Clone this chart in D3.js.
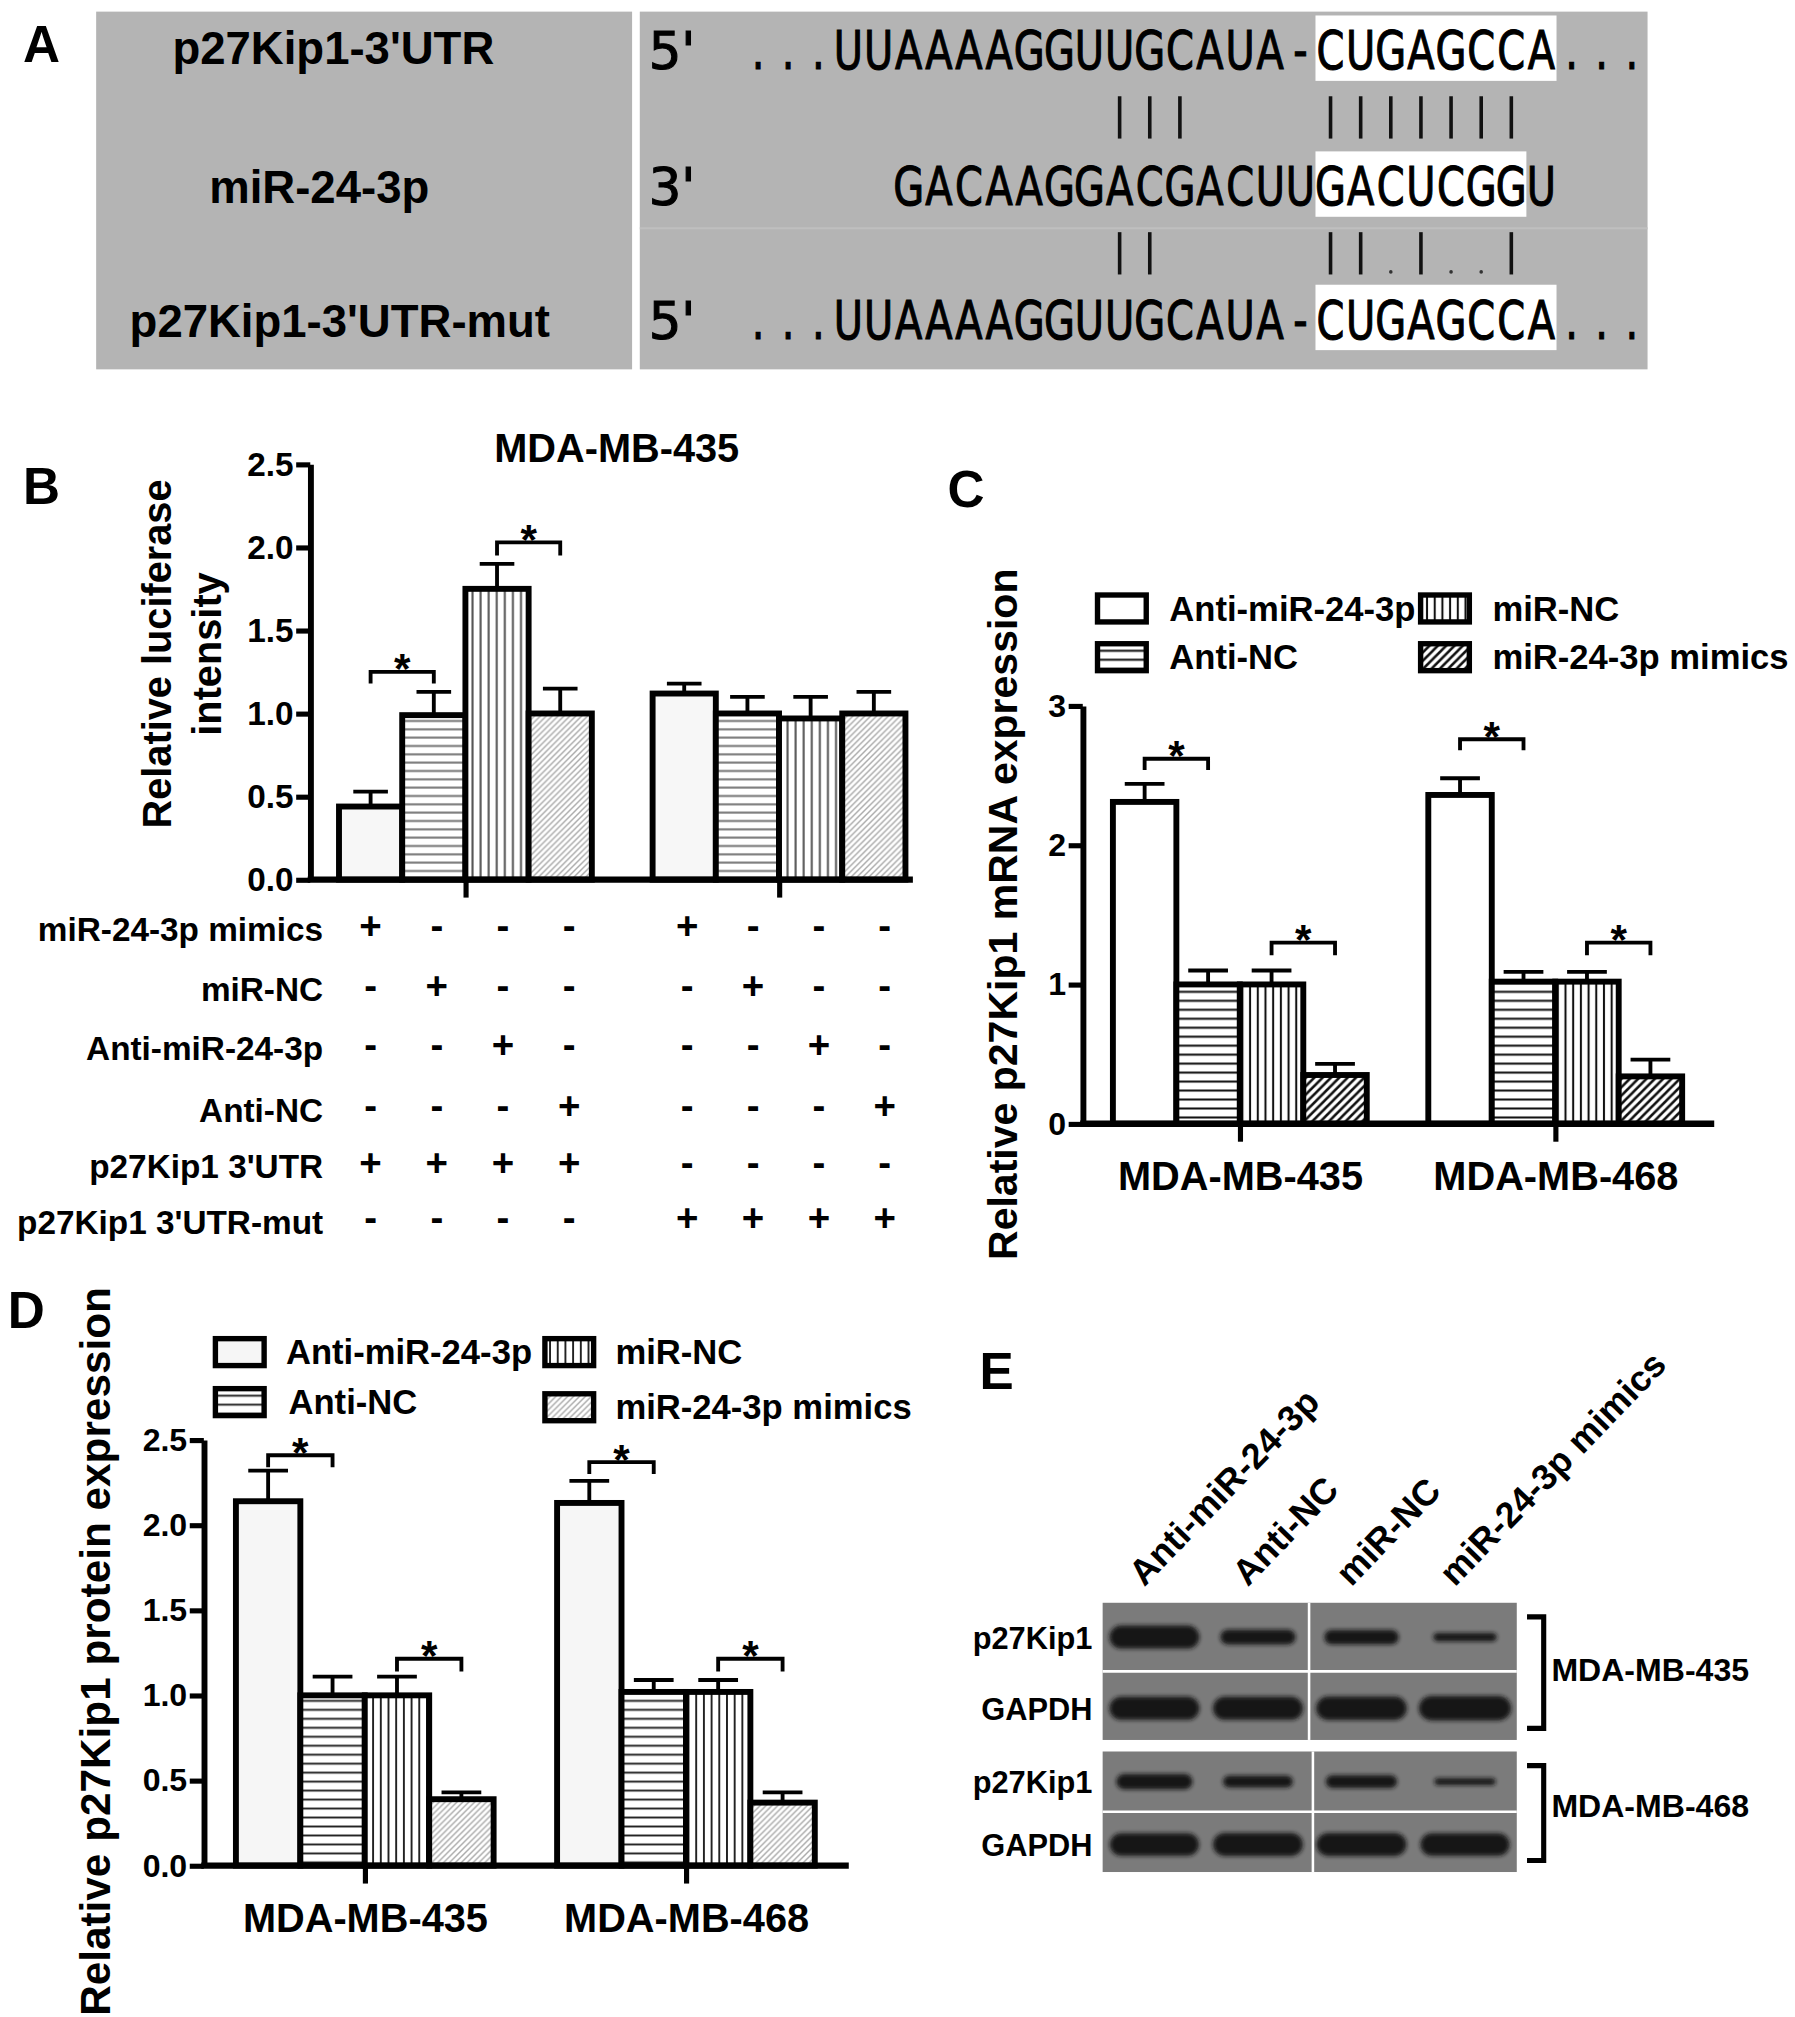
<!DOCTYPE html>
<html>
<head>
<meta charset="utf-8">
<script src="https://cdn.jsdelivr.net/npm/d3@7"></script>
<style>
html, body { margin: 0; padding: 0; background: #fff; }
svg { display: block; }
text { font-family: "Liberation Sans", Arial, sans-serif; font-weight: bold; fill: #000; }
.seq { font-family: "DejaVu Sans", sans-serif; font-weight: normal; stroke: #000; stroke-width: 0.9px; }
</style>
</head>
<body>
<svg id="fig" width="1795" height="2017" viewBox="0 0 1400 1573"></svg>
<script>
// ---------- data ----------
// panel A
const seqLabels = ["p27Kip1-3'UTR", "miR-24-3p", "p27Kip1-3'UTR-mut"];
const seqEnds = ["5'", "3'", "5'"];
const seqRows = ["...UUAAAAGGUUGCAUA-CUGAGCCA...", "GACAAGGACGACUUGACUCGGU", "...UUAAAAGGUUGCAUA-CUGAGCCA..."];
const seqOffset = [0, 5, 0];
const seedCols = [[19, 8], [19, 7], [19, 8]];
const pairRows = ["|||    |||||||", "||     ||.|..|"];
const pairStart = 12;

// panel B
const lucGroups = ["p27Kip1 3'UTR", "p27Kip1 3'UTR-mut"];
const lucMean = [[0.44, 0.99, 1.75, 1.00], [1.12, 1.00, 0.97, 1.00]];
const lucErr = [[0.09, 0.14, 0.15, 0.15], [0.06, 0.10, 0.13, 0.13]];
const lucTicks = [0, 0.5, 1.0, 1.5, 2.0, 2.5];
const lucSig = [{g: 0, a: 0, b: 1, top: 1.25, leg: 1.18}, {g: 0, a: 2, b: 3, top: 2.03, leg: 1.95}];
const tableRows = ["miR-24-3p mimics", "miR-NC", "Anti-miR-24-3p", "Anti-NC", "p27Kip1 3'UTR", "p27Kip1 3'UTR-mut"];
const tableSigns = [
  "+---+---",
  "-+---+--",
  "--+---+-",
  "---+---+",
  "++++----",
  "----++++"
];

// panel C / D
const cellLines = ["MDA-MB-435", "MDA-MB-468"];
const treatments = ["Anti-miR-24-3p", "Anti-NC", "miR-NC", "miR-24-3p mimics"];
const mrnaMean = [[2.31, 1.00, 1.00, 0.35], [2.36, 1.02, 1.02, 0.34]];
const mrnaErr = [[0.13, 0.10, 0.10, 0.08], [0.12, 0.07, 0.07, 0.12]];
const mrnaTicks = [0, 1, 2, 3];
const mrnaSig = [
  {g: 0, a: 0, b: 1, top: 2.62, leg: 2.54}, {g: 0, a: 2, b: 3, top: 1.30, leg: 1.21},
  {g: 1, a: 0, b: 1, top: 2.76, leg: 2.68}, {g: 1, a: 2, b: 3, top: 1.30, leg: 1.21}
];
const protMean = [[2.14, 1.00, 1.00, 0.39], [2.13, 1.02, 1.02, 0.37]];
const protErr = [[0.18, 0.11, 0.11, 0.04], [0.13, 0.07, 0.07, 0.06]];
const protTicks = [0, 0.5, 1.0, 1.5, 2.0, 2.5];
const protSig = [
  {g: 0, a: 0, b: 1, top: 2.41, leg: 2.34}, {g: 0, a: 2, b: 3, top: 1.215, leg: 1.14},
  {g: 1, a: 0, b: 1, top: 2.37, leg: 2.30}, {g: 1, a: 2, b: 3, top: 1.215, leg: 1.14}
];

// panel E (relative band intensity, rows: p27 435, GAPDH 435, p27 468, GAPDH 468)
const blotRows = ["p27Kip1", "GAPDH"];
const bandIntensity = [
  [1.00, 0.62, 0.60, 0.32],
  [1.00, 1.00, 1.02, 1.06],
  [0.64, 0.48, 0.52, 0.25],
  [0.98, 1.00, 1.00, 0.98]
];

// ---------- drawing ----------
const svg = d3.select('#fig');
const defs = svg.append('defs');

function hatch(id, kind, color, width, gap) {
  const p = defs.append('pattern').attr('id', id).attr('patternUnits', 'userSpaceOnUse')
    .attr('width', gap).attr('height', gap);
  p.append('rect').attr('width', gap).attr('height', gap).attr('fill', '#fff');
  let d;
  if (kind === 'h') d = `M0,${gap / 2}H${gap}`;
  else if (kind === 'v') d = `M${gap / 2},0V${gap}`;
  else d = `M0,${gap}L${gap},0M${-gap / 2},${gap / 2}L${gap / 2},${-gap / 2}M${gap / 2},${gap * 1.5}L${gap * 1.5},${gap / 2}`;
  p.append('path').attr('d', d).attr('stroke', color).attr('stroke-width', width);
}
hatch('hB', 'h', '#777', 1.6, 6.5);
hatch('vB', 'v', '#555', 1.6, 6.3);
hatch('dB', 'd', '#aaa', 1.1, 4.6);
hatch('hC', 'h', '#111', 1.6, 7);
hatch('vC', 'v', '#111', 1.6, 6);
hatch('dC', 'd', '#111', 2.0, 6.5);
hatch('hD', 'h', '#222', 1.5, 7);
hatch('vD', 'v', '#222', 1.5, 6);

defs.append('filter').attr('id', 'blur').attr('x', '-20%').attr('y', '-60%').attr('width', '140%').attr('height', '220%')
  .append('feGaussianBlur').attr('stdDeviation', 1.6);

function letter(t, x, y) {
  svg.append('text').attr('x', x).attr('y', y).attr('font-size', 40).text(t);
}

// ===== Panel A =====
letter('A', 18, 48);
const gA = svg.append('g');
gA.append('rect').attr('x', 75).attr('y', 9).attr('width', 418).attr('height', 279).attr('fill', '#b4b4b4');
gA.append('rect').attr('x', 499).attr('y', 9).attr('width', 786).attr('height', 279).attr('fill', '#b4b4b4');
gA.append('line').attr('x1', 499).attr('x2', 1285).attr('y1', 178).attr('y2', 178).attr('stroke', '#bfbfbf').attr('stroke-width', 1.5);

const seqBase = [54, 160, 264];
const labelBase = [50, 158, 263];
const labelX = [260, 249, 265];
const col = d3.scaleLinear().domain([0, 1]).range([579.5, 603]);
const sx = 0.76;

gA.selectAll('.slab').data(seqLabels).join('text').attr('class', 'slab')
  .attr('x', (d, i) => labelX[i]).attr('y', (d, i) => labelBase[i])
  .attr('text-anchor', 'middle').attr('font-size', 35.5).text(d => d);

seqRows.forEach((s, r) => {
  const [c0, n] = seedCols[r];
  gA.append('rect').attr('x', col(c0)).attr('width', col(c0 + n) - col(c0))
    .attr('y', seqBase[r] - 42).attr('height', 51).attr('fill', '#fff');
  gA.append('text').attr('class', 'seq').attr('x', 506).attr('y', seqBase[r])
    .attr('font-size', 40).text(seqEnds[r]);
  gA.append('text').attr('class', 'seq').attr('transform', `scale(${sx},1)`)
    .attr('x', s.split('').map((c, i) => (col(seqOffset[r] + i + 0.5) / sx).toFixed(2)).join(' '))
    .attr('y', seqBase[r]).attr('text-anchor', 'middle').attr('font-size', 41).text(s);
});

pairRows.forEach((p, r) => {
  const y0 = r === 0 ? 75 : 181, y1 = y0 + 33;
  p.split('').forEach((c, i) => {
    const x = col(pairStart + i + 0.5);
    if (c === '|') gA.append('line').attr('x1', x).attr('x2', x).attr('y1', y0).attr('y2', y1)
      .attr('stroke', '#111').attr('stroke-width', 2.8);
    else if (c === '.') gA.append('circle').attr('cx', x).attr('cy', y1 - 2).attr('r', 1.4).attr('fill', '#333');
  });
});

// ===== bar panel helper =====
function barPanel(o) {
  const g = svg.append('g');
  const y = d3.scaleLinear().domain(o.yDomain).range(o.yRange);
  const xg = d3.scalePoint().domain(o.groups).range(o.groupRange);
  const xs = d3.scaleBand().domain(d3.range(o.means[0].length)).range([-o.half, o.half]);
  const bw = xs.bandwidth();
  const cx = (gi, si) => xg(o.groups[gi]) + xs(si) + bw / 2;
  const recs = o.means.flatMap((row, gi) => row.map((v, si) => ({gi, si, v, e: o.errs[gi][si]})));

  g.selectAll('.err').data(recs).join('path').attr('class', 'err')
    .attr('d', d => {
      const x = cx(d.gi, d.si), t = y(d.v + d.e);
      return `M${x},${y(d.v)}V${t}M${x - o.cap / 2},${t}H${x + o.cap / 2}`;
    })
    .attr('fill', 'none').attr('stroke', '#000').attr('stroke-width', 3);

  g.selectAll('.bar').data(recs).join('rect').attr('class', 'bar')
    .attr('x', d => xg(o.groups[d.gi]) + xs(d.si)).attr('width', bw)
    .attr('y', d => y(d.v)).attr('height', d => y(0) - y(d.v))
    .attr('fill', d => o.fills[d.si]).attr('stroke', '#000').attr('stroke-width', 4.6);

  // y axis
  const ya = g.append('g').attr('transform', `translate(${o.axisX},0)`)
    .call(d3.axisLeft(y).tickValues(o.ticks).tickFormat(o.fmt).tickSize(11).tickSizeOuter(0).tickPadding(2));
  ya.attr('font-family', null).attr('font-size', null);
  ya.select('.domain').attr('stroke', '#000').attr('stroke-width', 4.6);
  ya.selectAll('.tick line').attr('stroke', '#000').attr('stroke-width', 4);
  ya.selectAll('.tick text').attr('font-size', o.tickFont).attr('fill', '#000');

  // x axis
  g.append('line').attr('x1', o.axisX - 2).attr('x2', o.axisEnd).attr('y1', y(0)).attr('y2', y(0))
    .attr('stroke', '#000').attr('stroke-width', 5);
  const xa = g.append('g').attr('transform', `translate(0,${y(0)})`)
    .call(d3.axisBottom(xg).tickSize(14).tickSizeOuter(0).tickPadding(16).tickFormat(o.catLabels ? d => d : () => ''));
  xa.attr('font-family', null).attr('font-size', null);
  xa.select('.domain').remove();
  xa.selectAll('.tick line').attr('stroke', '#000').attr('stroke-width', 4);
  xa.selectAll('.tick text').attr('font-size', 31).attr('fill', '#000');

  // significance brackets
  g.selectAll('.sig').data(o.sig).join('path').attr('class', 'sig')
    .attr('d', d => `M${cx(d.g, d.a)},${y(d.leg)}V${y(d.top)}H${cx(d.g, d.b)}V${y(d.leg)}`)
    .attr('fill', 'none').attr('stroke', '#000').attr('stroke-width', 3);
  g.selectAll('.star').data(o.sig).join('text').attr('class', 'star')
    .attr('x', d => (cx(d.g, d.a) + cx(d.g, d.b)) / 2).attr('y', d => y(d.top) + 9)
    .attr('text-anchor', 'middle').attr('font-size', 33).text('*');
  return {g, y, cx};
}

function yTitle(lines, x, yc, fs) {
  lines.forEach((t, i) => {
    svg.append('text').attr('transform', `translate(${x[i] + 0.36 * fs},${yc}) rotate(-90)`)
      .attr('text-anchor', 'middle').attr('font-size', fs).text(t);
  });
}

function legend(items, fills) {
  items.forEach((it, i) => {
    svg.append('rect').attr('x', it.bx).attr('y', it.by).attr('width', 38).attr('height', 21)
      .attr('fill', fills[i]).attr('stroke', '#000').attr('stroke-width', 4.2);
    svg.append('text').attr('x', it.tx).attr('y', it.by + 20).attr('font-size', 27).text(treatments[i]);
  });
}

// ===== Panel B =====
letter('B', 18, 393);
svg.append('text').attr('x', 481).attr('y', 360).attr('text-anchor', 'middle').attr('font-size', 31).text('MDA-MB-435');
barPanel({
  groups: lucGroups, means: lucMean, errs: lucErr,
  yDomain: [0, 2.5], yRange: [686, 362], axisX: 242, axisEnd: 712,
  groupRange: [363, 607.6], half: 98.6, cap: 27,
  ticks: lucTicks, fmt: d3.format('.1f'), tickFont: 26,
  fills: ['#f7f7f7', 'url(#hB)', 'url(#vB)', 'url(#dB)'], sig: lucSig, catLabels: false
});
yTitle(['Relative luciferase', 'intensity'], [122, 161], 510, 31);

// condition table
const rowBase = [734, 781, 827, 875, 919, 962];
const signX = d3.scaleLinear().domain([0, 3]).range([289, 444]);
const signX2 = d3.scaleLinear().domain([4, 7]).range([536, 690]);
svg.selectAll('.trow').data(tableRows).join('text').attr('class', 'trow')
  .attr('x', 252).attr('y', (d, i) => rowBase[i]).attr('text-anchor', 'end').attr('font-size', 26).text(d => d);
tableSigns.forEach((s, r) => {
  svg.append('g').selectAll('text').data(s.split('')).join('text')
    .attr('x', (d, i) => i < 4 ? signX(i) : signX2(i)).attr('y', rowBase[r] - 2)
    .attr('text-anchor', 'middle').attr('font-size', 30).text(d => d);
});

// ===== Panel C =====
letter('C', 739, 395);
barPanel({
  groups: cellLines, means: mrnaMean, errs: mrnaErr,
  yDomain: [0, 3], yRange: [876.4, 550.4], axisX: 844.5, axisEnd: 1337,
  groupRange: [967, 1213], half: 99, cap: 31,
  ticks: mrnaTicks, fmt: d3.format('d'), tickFont: 25,
  fills: ['#fff', 'url(#hC)', 'url(#vC)', 'url(#dC)'], sig: mrnaSig, catLabels: true
});
yTitle(['Relative p27Kip1 mRNA expression'], [782], 713, 32);
legend([
  {bx: 856, by: 464, tx: 912}, {bx: 856, by: 502, tx: 912},
  {bx: 1108, by: 464, tx: 1164}, {bx: 1108, by: 502, tx: 1164}
], ['#fff', 'url(#hC)', 'url(#vC)', 'url(#dC)']);

// ===== Panel D =====
letter('D', 6, 1036);
barPanel({
  groups: cellLines, means: protMean, errs: protErr,
  yDomain: [0, 2.5], yRange: [1455, 1123], axisX: 159, axisEnd: 662,
  groupRange: [284.5, 535], half: 100.5, cap: 31,
  ticks: protTicks, fmt: d3.format('.1f'), tickFont: 25,
  fills: ['#f6f6f6', 'url(#hD)', 'url(#vD)', 'url(#dB)'], sig: protSig, catLabels: true
});
yTitle(['Relative p27Kip1 protein expression'], [74], 1288, 33);
legend([
  {bx: 168, by: 1044, tx: 223}, {bx: 168, by: 1083, tx: 225},
  {bx: 425, by: 1044, tx: 480}, {bx: 425, by: 1087, tx: 480}
], ['#f6f6f6', 'url(#hD)', 'url(#vD)', 'url(#dB)']);

// ===== Panel E =====
letter('E', 764, 1083);
const lane = d3.scaleBand().domain(treatments).range([860, 1183]);
const bandW = d3.scaleLinear().domain([0, 1]).range([40, 70]);
const bandH = d3.scaleLinear().domain([0, 1]).range([1, 18]);
const blocks = [{top: 1250, bottom: 1357, sep: 1021}, {top: 1366, bottom: 1460, sep: 1024}];
const gE = svg.append('g');

gE.selectAll('.lane').data(treatments).join('text').attr('class', 'lane')
  .attr('transform', d => `translate(${lane(d) + lane.bandwidth() / 2 - 8},1238) rotate(-46)`)
  .attr('font-size', 28).text(d => d);

blocks.forEach((b, bi) => {
  const row = d3.scaleBand().domain(blotRows).range([b.top, b.bottom]);
  gE.append('rect').attr('x', 860).attr('y', b.top).attr('width', 323).attr('height', b.bottom - b.top).attr('fill', '#7b7b7b');
  blotRows.forEach((rn, ri) => {
    const vals = bandIntensity[bi * 2 + ri];
    const yc = row(rn) + row.bandwidth() / 2 + (ri === 1 ? 2 : 0);
    gE.append('g').attr('filter', 'url(#blur)').selectAll('rect').data(vals).join('rect')
      .attr('x', (v, i) => lane(treatments[i]) + lane.bandwidth() / 2 - bandW(v) / 2)
      .attr('width', v => bandW(v))
      .attr('y', v => yc - bandH(v) / 2).attr('height', v => bandH(v))
      .attr('rx', v => bandH(v) / 2).attr('fill', '#141414');
    gE.append('text').attr('x', 852).attr('y', yc + 9).attr('text-anchor', 'end').attr('font-size', 24).text(rn);
  });
  gE.append('line').attr('x1', 860).attr('x2', 1183).attr('y1', row('GAPDH')).attr('y2', row('GAPDH'))
    .attr('stroke', '#fff').attr('stroke-width', 2);
  gE.append('line').attr('x1', b.sep).attr('x2', b.sep).attr('y1', b.top).attr('y2', b.bottom)
    .attr('stroke', '#fff').attr('stroke-width', 2);
  const bt = b.top + 11, bb = b.bottom - 9;
  gE.append('path').attr('d', `M1191,${bt}H1204V${bb}H1191`).attr('fill', 'none')
    .attr('stroke', '#000').attr('stroke-width', 4);
  gE.append('text').attr('x', 1210).attr('y', bi === 0 ? 1311 : 1417).attr('font-size', 25).text(cellLines[bi]);
});
</script>
</body>
</html>
